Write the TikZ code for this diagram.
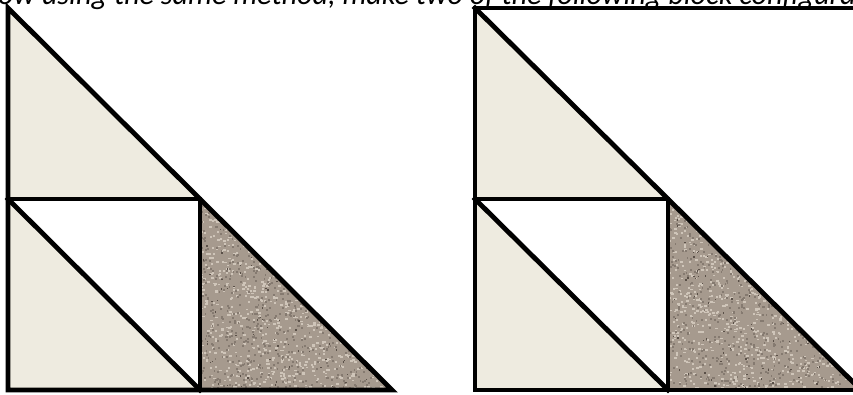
\documentclass[tikz,border=0pt]{standalone}
\usepackage{fontspec}
\setmainfont{Carlito}
\begin{document}
\begin{tikzpicture}[x=1pt,y=1pt,
  edge/.style={line width=4.8pt,line join=miter,line cap=rect},
  beige/.style={fill=cream},
  granite/.style={fill=stone}]
\definecolor{cream}{HTML}{EEEBE0}
\definecolor{stone}{HTML}{A69A8E}
\definecolor{speckL}{HTML}{CFC5B9}
\definecolor{speckM}{HTML}{857A70}
\definecolor{speckD}{HTML}{5A5048}
\useasboundingbox (0,0) rectangle (853,394);
\clip (0,0) rectangle (853,394);
\fill[white] (0,0) rectangle (853,394);
% left block
\coordinate (A) at (8,386);
\coordinate (B) at (8,195);
\coordinate (C) at (200,195);
\coordinate (D) at (8,4);
\coordinate (E) at (200,4);
\coordinate (F) at (392,4);
% right block
\coordinate (A2) at (475,386);
\coordinate (B2) at (475,195);
\coordinate (C2) at (668,195);
\coordinate (D2) at (475,4);
\coordinate (E2) at (668,4);
\coordinate (F2) at (861,4);
\coordinate (G2) at (861,386);
% fills
\fill[beige] (A) -- (B) -- (C) -- cycle;
\fill[beige] (B) -- (D) -- (E) -- cycle;
\fill[granite] (C) -- (E) -- (F) -- cycle;
\fill[beige] (A2) -- (B2) -- (C2) -- cycle;
\fill[beige] (B2) -- (D2) -- (E2) -- cycle;
\fill[granite] (C2) -- (E2) -- (F2) -- cycle;
% speckle texture
\pgfmathsetseed{7}
\foreach \x in {200,668}{
\begin{scope}
\clip (\x,195) -- (\x,4) -- (\x+193,4) -- cycle;
\foreach \i in {1,...,1100}{
  \pgfmathsetmacro{\px}{\x+193*rnd}
  \pgfmathsetmacro{\py}{4+191*rnd}
  \fill[speckL] (\px,\py) rectangle ++(2.4,1.8);
}
\foreach \i in {1,...,800}{
  \pgfmathsetmacro{\px}{\x+193*rnd}
  \pgfmathsetmacro{\py}{4+191*rnd}
  \fill[speckM] (\px,\py) rectangle ++(1.8,2.0);
}
\foreach \i in {1,...,120}{
  \pgfmathsetmacro{\px}{\x+193*rnd}
  \pgfmathsetmacro{\py}{4+191*rnd}
  \fill[speckD] (\px,\py) rectangle ++(1.4,1.4);
}
\end{scope}
}
% outlines
\draw[edge] (A) -- (D) -- (F) -- cycle;
\draw[edge] (B) -- (C) -- (E);
\draw[edge] (B) -- (E);
\draw[edge] (G2) -- (A2) -- (D2) -- (F2);
\draw[edge] (A2) -- (F2);
\draw[edge] (B2) -- (C2) -- (E2);
\draw[edge] (B2) -- (E2);
% heading (cut off at top)
\node[anchor=base west,inner sep=0pt,font=\fontsize{30.2}{32}\selectfont\itshape] (head) at (-2,389)
  {ow using the same method, make two of the following block configurat};
\end{tikzpicture}
\end{document}
